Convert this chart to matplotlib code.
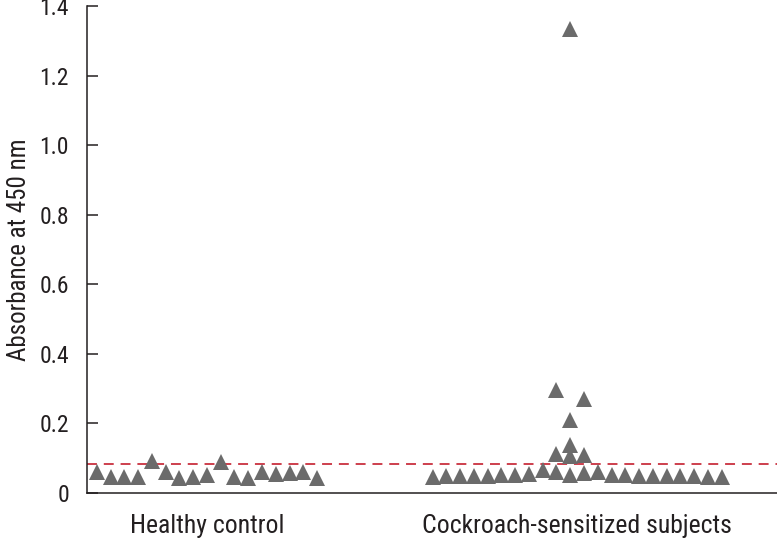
import matplotlib
matplotlib.use("Agg")
import matplotlib.pyplot as plt

# groups and their values (absorbance at 450 nm)
groups = ["Healthy control", "Cockroach-sensitized subjects"]

# column slot of each point inside its group (beeswarm style) and its value
healthy_slot = list(range(17))
healthy_val = [0.061, 0.047, 0.047, 0.047, 0.093, 0.059, 0.044, 0.047, 0.052,
               0.090, 0.047, 0.044, 0.059, 0.054, 0.057, 0.059, 0.044]

cockroach_slot = list(range(22)) + [9, 9, 10, 10, 10, 10, 11, 11]
cockroach_val = [0.047, 0.049, 0.050, 0.050, 0.050, 0.051, 0.052, 0.054,
                 0.066, 0.061, 0.052, 0.057, 0.061, 0.052, 0.052, 0.050,
                 0.050, 0.050, 0.049, 0.048, 0.047, 0.047,
                 0.113, 0.295, 0.107, 0.139, 0.209, 1.335, 0.110, 0.271]

cutoff = 0.084

yticks = [0, 0.2, 0.4, 0.6, 0.8, 1.0, 1.2, 1.4]
ytick_labels = ["0", "0.2", "0.4", "0.6", "0.8", "1.0", "1.2", "1.4"]

plt.rcParams['font.family'] = ['Roboto Condensed', 'Liberation Sans Narrow', 'Roboto', 'DejaVu Sans']

fig = plt.figure(figsize=(7.77, 5.42), dpi=100)
ax = fig.add_axes([0.112, 0.0904, 0.888, 0.8986])

step = 0.0372
marker_color = '#6b6b6b'

def slot_x(center, slots):
    mid = (max(slots) - min(slots)) / 2.0
    return [center + (s - mid) * step for s in slots]

ax.plot(slot_x(1, healthy_slot), healthy_val, linestyle='none', marker='^',
        markersize=12, color=marker_color, markeredgewidth=0, zorder=3)
ax.plot(slot_x(2, cockroach_slot), cockroach_val, linestyle='none', marker='^',
        markersize=12, color=marker_color, markeredgewidth=0, zorder=3)

ax.axhline(cutoff, color='#c9303f', linestyle=(0, (5.5, 3.8)), linewidth=1.3, zorder=2)

ax.set_xlim(0.676, 2.54)
ax.set_ylim(0, 1.4)

ax.set_yticks(yticks)
ax.set_yticklabels(ytick_labels, fontsize=17)
ax.tick_params(axis='y', direction='in', length=8, width=1.1, pad=13, colors='#231f20')
ax.set_xticks([1, 2])
ax.set_xticklabels(groups, fontsize=18.5)
ax.tick_params(axis='x', length=0, pad=15, colors='#231f20')

ax.set_ylabel('Absorbance at 450 nm', fontsize=18, color='#231f20', labelpad=6)

for side in ['top', 'right']:
    ax.spines[side].set_visible(False)
for side in ['left', 'bottom']:
    ax.spines[side].set_linewidth(1.1)
    ax.spines[side].set_color('#231f20')

fig.savefig('out.png', dpi=100)
